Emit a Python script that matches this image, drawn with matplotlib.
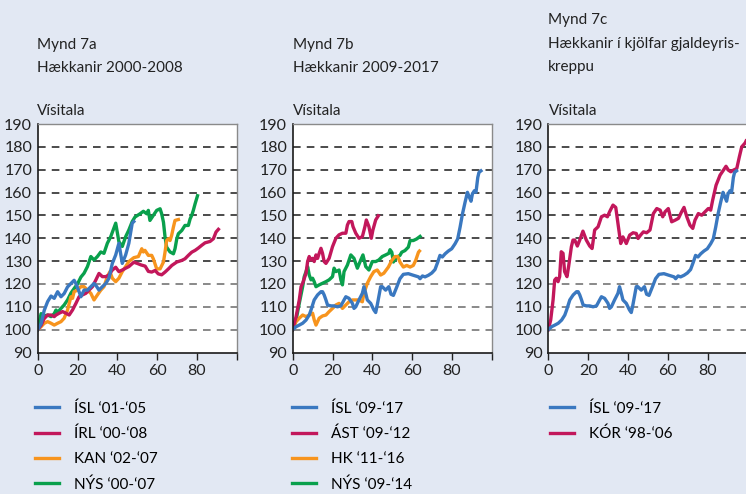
import matplotlib.pyplot as plt

plt.rcParams['font.family'] = ['Lato', 'DejaVu Sans']

BLAR = '#3a78c0'
RAUDUR = '#c2175b'
APPELSINA = '#f7941d'
GRAENN = '#09a04c'
BAKGRUNNUR = '#e2e8f3'

# Mynd 7a
isl_a_x = [0, 1.7, 3.3, 5, 6.7, 8.3, 10, 11.7, 13.3, 15, 16.7, 18.3, 19.2, 20.8, 21.7, 23.3, 25,
           26.7, 28.3, 29.7, 30.8, 32.5, 34.2, 35.8, 37.5, 39.2, 40.8, 42.5, 44.2, 45.8, 47.5, 48.3]
isl_a_y = [100, 102.6, 108.5, 112.3, 114.7, 113.7, 116.6, 114.4, 115.8, 118.7, 120.2, 121.6, 120.2,
           116.6, 114.4, 117.3, 117.3, 118.8, 120.2, 118.8, 117.3, 118.8, 120.2, 122.5, 129, 132.7,
           137.8, 129, 132.7, 137.8, 146.6, 147.3]

irl_a_x = [0, 1.7, 3.3, 5, 6.7, 8.3, 9.2, 10.8, 12.5, 14.2, 15.8, 17.5, 19.2, 20.8, 22.5, 24.2, 25.8,
           27.5, 29.2, 30.8, 32.5, 34.2, 35.8, 37.5, 39.2, 40.8, 42.5, 44.2, 45.8, 48.3, 50, 52, 54,
           55.6, 57.3, 59, 60.6, 62.3, 64, 65.7, 67.4, 69.9, 72.4, 74, 75.7, 77.4, 79.1, 80.7, 82.4,
           84.1, 86.6, 88.3, 89.6, 90.8]
irl_a_y = [100, 101.9, 104.9, 106.4, 106.4, 105.7, 106.4, 107.2, 107.9, 107.2, 106.4, 108.6, 111.5,
           114.4, 115.2, 115.9, 117.3, 118.8, 121.7, 124.6, 123.2, 123.2, 123.9, 126.1, 127.3, 125.4,
           126.1, 126.9, 127.6, 129.5, 129, 128.3, 127.8, 125.5, 125.2, 125.9, 124.4, 124, 125.2,
           126.6, 128.1, 129.6, 130.3, 131, 132.5, 133.9, 134.7, 135.7, 136.9, 138, 138.6, 139.8,
           142.7, 143.9]

kan_a_x = [0, 1.7, 3.3, 5, 6.7, 8.3, 10, 11.7, 13.3, 15, 16.7, 17.5, 18.3, 20, 21.7, 23.3, 25, 26.7,
           28.3, 30, 31.7, 33.3, 35, 36.3, 37.5, 39.2, 40.8, 42.5, 44.2, 45.8, 48.3, 50.6, 52.3, 53.1,
           53.9, 55.6, 57.3, 58.1, 59.8, 61.5, 63.2, 64, 64.8, 65.7, 66.5, 67.3, 68.2, 69, 70.7]
kan_a_y = [100, 101.3, 102.8, 103.5, 102.8, 102, 102.8, 103.5, 105, 108.6, 114.4, 113.7, 116.6,
           117.3, 118.8, 118.8, 117.3, 115.9, 113, 115.2, 117.3, 118.8, 123.2, 125.4, 122.5, 121,
           122.5, 125.4, 127.6, 129.8, 131.5, 132, 135.4, 134, 134.7, 132.5, 132.5, 131, 126.6,
           126.6, 129.6, 134, 139, 139.8, 139, 141.2, 144.9, 147.8, 148.2]

nys_a_x = [0, 1.7, 3.3, 5, 6.7, 8.3, 9.2, 10, 11.7, 13.3, 15, 16.7, 18.3, 20, 21.7, 23.3, 25, 26.7,
           28.3, 30, 31.7, 33.3, 35, 36.7, 39.2, 40.8, 42.5, 44.2, 45.8, 47.5, 48.9, 51.4, 53.1, 54.8,
           55.6, 56.4, 58.1, 59.8, 61.5, 62.3, 63.2, 64, 64.8, 66.5, 68.2, 69, 69.9, 70.7, 72.4, 74,
           75.7, 76.6, 77.4, 78.2, 79.1, 80.3]
nys_a_y = [100, 107, 106, 106.4, 105.7, 107, 108.6, 107.5, 109.3, 110.8, 113, 116, 118, 120, 123,
           124.7, 127.6, 132, 130.5, 132, 134, 133.4, 137.8, 140.7, 146.6, 138.5, 136.4, 140.7,
           143.6, 147.3, 149.3, 150.7, 151.8, 150.7, 152.2, 147.8, 150, 152.2, 152.9, 150.7, 147,
           140.5, 136.1, 134, 133.2, 135.4, 139.8, 142, 143.4, 145.6, 145.6, 148.5, 150, 152.2,
           155.1, 158.6]

# Mynd 7b og 7c
isl_b_x = [0, 1.7, 3.3, 5, 6.7, 8.3, 9.2, 10, 10.8, 12.5, 14.2, 15, 15.8, 16.7, 17.5, 19.2, 20.8,
           22.5, 24.2, 25.8, 26.7, 28.3, 30, 30.8, 31.7, 33.3, 35, 35.8, 36.7, 37.5, 39.2, 40.8,
           41.7, 42.5, 44.2, 45, 46.7, 48.3, 49.4, 50.6, 52.3, 53.9, 55.6, 58.1, 60.6, 63.2, 64,
           65.2, 66.5, 68.2, 69.9, 71.5, 72.9, 74, 75.2, 76.6, 78.2, 79.9, 81.6, 82.9, 84.1, 85.3,
           86.6, 87.8, 88.8, 89.6, 90.3, 91.3, 92.1, 93, 93.6, 94.6]
isl_b_y = [100, 101.3, 102, 102.8, 104.2, 106.4, 108.6, 110.8, 113, 115.2, 116.6, 116.6, 115.2,
           113, 110.8, 110.4, 110.4, 110, 110.4, 113, 114.4, 113.7, 111.5, 109.3, 110, 113, 115.9,
           118.8, 115.9, 113, 111.5, 108.6, 107.5, 110.8, 118.8, 118.8, 117.3, 118.8, 115.5, 115,
           118.7, 122.3, 124.2, 124.5, 123.8, 123.1, 122.3, 123.5, 123.1, 123.8, 124.8, 126.3,
           129.6, 132.5, 131.8, 133.2, 134.4, 135.4, 137.6, 139.7, 144.8, 150.6, 155.7, 160.1,
           157.9, 156.2, 159.4, 160.8, 160.1, 166.6, 168.8, 169.5]

ast_x = [0, 1.7, 3.3, 4.2, 5, 6.7, 7.5, 8.3, 9.2, 10, 10.8, 11.7, 12.5, 13.3, 14.2, 15, 15.8, 16.7,
         18.3, 20, 21.7, 23.3, 25, 26.7, 27.5, 28.3, 29.7, 30.3, 31.7, 33.3, 35, 36.3, 37, 38.3,
         39.5, 40.3, 41.7, 43]
ast_y = [100, 105.7, 113, 118.8, 120.3, 124.7, 129.8, 132, 130.5, 131.2, 129.8, 132.7, 131.2,
         133.4, 135.6, 133.4, 129.8, 129, 131.2, 136.3, 140, 141.5, 142.2, 142.2, 145.8, 147.3,
         147.3, 145.1, 142.2, 140, 140.7, 145.1, 148, 145.1, 140, 143.6, 148, 149.8]

hk_x = [0, 1.7, 3.3, 5, 6.7, 8.3, 10, 10.8, 11.7, 13.3, 15, 16.7, 18.3, 20, 21.7, 23.3, 25, 26.7,
        28.3, 30, 31.7, 33.3, 35, 35.8, 37.5, 39.2, 40.8, 42.5, 44.2, 45.8, 48.1, 49.8, 51.4, 52.8,
        53.9, 55.6, 57.3, 59, 60.6, 61.8, 63.2, 63.7]
hk_y = [100, 103.5, 105, 106.4, 105.7, 106.4, 107.2, 104.3, 102, 105, 106, 106.4, 107.9, 109.3,
        110.8, 111.5, 109.3, 110.8, 112.2, 113, 113, 113, 112.2, 115.9, 120.3, 123.2, 125.4, 126.1,
        123.9, 124.7, 127.4, 130.3, 132, 132, 129.6, 127.4, 128.1, 127.4, 128.1, 130.3, 133.9,
        134.4]

nys_b_x = [0, 1.7, 3.3, 5, 5.8, 6.7, 7.5, 8.3, 9.2, 10, 10.8, 11.7, 13.3, 15, 16.7, 18.3, 20, 20.8,
           21.7, 23.3, 24.2, 25, 25.8, 27.5, 29.2, 30.8, 32.5, 34.2, 35.3, 36.7, 38.3, 40, 41.7,
           43.3, 45, 46.7, 48.3, 48.9, 49.8, 50.6, 52.3, 53.9, 54.8, 56.4, 58.1, 59, 60.6, 62.3, 64]
nys_b_y = [100, 104.2, 111.5, 118.8, 123.2, 125.4, 127.6, 123.9, 121.8, 122.5, 121, 118.8, 119.6,
           120.3, 121, 121.8, 123.2, 126.9, 125.4, 126.1, 121.8, 119.6, 125.4, 128.3, 132.7, 131.2,
           126.9, 130.5, 132.7, 127.6, 126.1, 129.8, 129.8, 130.5, 132, 132.7, 133.4, 135, 133.9,
           129.6, 131.7, 132.5, 133.9, 134.6, 136.1, 139, 139, 139.7, 140.8]

kor_x = [0, 1.2, 2.4, 3.2, 4, 4.9, 5.7, 6.5, 7.4, 8.2, 9.4, 10.2, 11.6, 12.4, 13.3, 14.6, 15.8,
         17.4, 19.1, 20.8, 22, 23.3, 25, 26.7, 28.3, 29.7, 30.8, 32.5, 33.9, 35, 36.4, 37.5, 39.2,
         40.9, 42.6, 44.2, 45.1, 46.4, 47.8, 49.4, 51.1, 52.8, 54.5, 56.2, 57.5, 58.7, 60.3, 62,
         63.7, 65.4, 67, 68.2, 69.6, 71.2, 72.6, 73.7, 75.4, 77.1, 78.8, 80.4, 81.6, 82.6, 84.3,
         86.3, 88, 89.3, 90.5, 91.7, 93, 94.7, 96, 97.2, 98.9, 99.4]
kor_y = [100, 104.2, 113, 121.7, 122.5, 121, 123.2, 134.1, 133.4, 125.4, 123.2, 127.6, 136.3,
         139.2, 139.2, 136.6, 139.2, 143.1, 139.2, 136.6, 135.5, 143.6, 145, 149.4, 150.1, 149.4,
         151.6, 154.5, 153.5, 146.5, 137.7, 140.6, 137.7, 141.4, 142.4, 142.1, 139.9, 141.4, 142.8,
         142.4, 143.6, 150.8, 153, 152.3, 149.4, 151.6, 153, 147.2, 147.9, 148.7, 151.6, 153.5,
         149.4, 145.7, 144.3, 147.9, 150.8, 150.1, 151.6, 153, 152.3, 156.7, 163.2, 167.6, 169.8,
         171.5, 169.8, 169.1, 169.8, 170.5, 175.6, 180, 181.7, 182.6]

y_gildi = [90, 100, 110, 120, 130, 140, 150, 160, 170, 180, 190]
x_gildi = [0, 20, 40, 60, 80, 100]
x_merki = ['0', '20', '40', '60', '80', '']

W, H = 746, 494


def stilla_as(ax):
    ax.set_facecolor('white')
    ax.set_xlim(0, 100)
    ax.set_ylim(90, 190)
    ax.set_xticks(x_gildi)
    ax.set_xticklabels(x_merki)
    ax.set_yticks(y_gildi)
    ax.tick_params(axis='y', length=0, pad=4, labelsize=11.5, colors='#222222')
    ax.tick_params(axis='x', length=5, width=1, pad=3, labelsize=11.5, colors='#222222')
    for v in y_gildi[1:-1]:
        lit = '#6a6a6a' if v <= 120 else '#1a1a1a'
        ax.axhline(v, color=lit, lw=1.1, ls=(0, (5, 4)), zorder=1)
    for s in ('left', 'bottom'):
        ax.spines[s].set_color('#1a1a1a')
        ax.spines[s].set_linewidth(1.2)
    for s in ('top', 'right'):
        ax.spines[s].set_color('#8a8a8a')
        ax.spines[s].set_linewidth(1.0)


def ny_ax(fig, vinstri):
    return fig.add_axes([vinstri / W, 1 - 352.5 / H, 199 / W, 228.5 / H])


def gera_mynd():
    fig = plt.figure(figsize=(W / 100, H / 100), dpi=100, facecolor=BAKGRUNNUR)
    lw = 2.4

    ax1 = ny_ax(fig, 37.7)
    stilla_as(ax1)
    l_nys, = ax1.plot(nys_a_x, nys_a_y, color=GRAENN, lw=lw, label='NÝS ‘00-‘07')
    l_kan, = ax1.plot(kan_a_x, kan_a_y, color=APPELSINA, lw=lw, label='KAN ‘02-‘07')
    l_irl, = ax1.plot(irl_a_x, irl_a_y, color=RAUDUR, lw=lw, label='ÍRL ‘00-‘08')
    l_isl, = ax1.plot(isl_a_x, isl_a_y, color=BLAR, lw=lw, label='ÍSL ‘01-‘05')
    handfong_a = [l_isl, l_irl, l_kan, l_nys]

    ax2 = ny_ax(fig, 292.7)
    stilla_as(ax2)
    m_nys, = ax2.plot(nys_b_x, nys_b_y, color=GRAENN, lw=lw, label='NÝS ‘09-‘14')
    m_hk, = ax2.plot(hk_x, hk_y, color=APPELSINA, lw=lw, label='HK ‘11-‘16')
    m_ast, = ax2.plot(ast_x, ast_y, color=RAUDUR, lw=lw, label='ÁST ‘09-‘12')
    m_isl, = ax2.plot(isl_b_x, isl_b_y, color=BLAR, lw=lw, label='ÍSL ‘09-‘17')
    handfong_b = [m_isl, m_ast, m_hk, m_nys]

    ax3 = ny_ax(fig, 548.3)
    stilla_as(ax3)
    n_kor, = ax3.plot(kor_x, kor_y, color=RAUDUR, lw=lw, label='KÓR ‘98-‘06')
    n_isl, = ax3.plot(isl_b_x, isl_b_y, color=BLAR, lw=lw, label='ÍSL ‘09-‘17')
    handfong_c = [n_isl, n_kor]

    # titlar
    fs = 11
    fig.text(37 / W, 1 - 45 / H, 'Mynd 7a', fontsize=fs, va='center', color='#222222')
    fig.text(37 / W, 1 - 68 / H, 'Hækkanir 2000-2008', fontsize=fs, va='center', color='#222222')
    fig.text(293 / W, 1 - 45 / H, 'Mynd 7b', fontsize=fs, va='center', color='#222222')
    fig.text(293 / W, 1 - 68 / H, 'Hækkanir 2009-2017', fontsize=fs, va='center', color='#222222')
    fig.text(548 / W, 1 - 20 / H, 'Mynd 7c', fontsize=fs, va='center', color='#222222')
    fig.text(548 / W, 1 - 44 / H, 'Hækkanir í kjölfar gjaldeyris-', fontsize=fs, va='center',
             color='#222222')
    fig.text(548 / W, 1 - 67 / H, 'kreppu', fontsize=fs, va='center', color='#222222')
    for x0 in (37, 293, 549):
        fig.text(x0 / W, 1 - 111 / H, 'Vísitala', fontsize=fs, va='center', color='#222222')

    for ax, handfong, x0 in ((ax1, handfong_a, 35), (ax2, handfong_b, 292), (ax3, handfong_c, 550)):
        ax.legend(handles=handfong, loc='upper left', bbox_to_anchor=(x0 / W, 1 - 401 / H),
                  bbox_transform=fig.transFigure, frameon=False, fontsize=11,
                  handlelength=1.55, handletextpad=1.0, labelspacing=0.72, borderpad=0,
                  borderaxespad=0)

    fig.savefig('out.png', dpi=100, facecolor=BAKGRUNNUR)


if __name__ == '__main__':
    gera_mynd()
